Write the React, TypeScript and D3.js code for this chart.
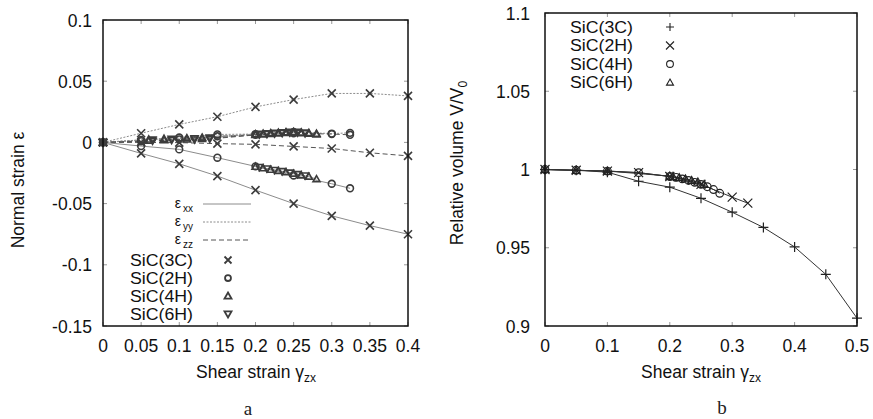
import React from 'react';
import * as d3 from 'd3';

// ---------- Panel a data ----------
const xTicksA = [0, 0.05, 0.1, 0.15, 0.2, 0.25, 0.3, 0.35, 0.4];
const xTickLabelsA = ['0', '0.05', '0.1', '0.15', '0.2', '0.25', '0.3', '0.35', '0.4'];
const yTicksA = [0.1, 0.05, 0, -0.05, -0.1, -0.15];
const yTickLabelsA = ['0.1', '0.05', '0', '-0.05', '-0.1', '-0.15'];

const x3C = [0, 0.05, 0.1, 0.15, 0.2, 0.25, 0.3, 0.35, 0.4];
const xx3C = [0, -0.009, -0.0175, -0.0275, -0.039, -0.05, -0.06, -0.068, -0.075];
const yy3C = [0, 0.0075, 0.0147, 0.021, 0.029, 0.035, 0.04, 0.04, 0.038];
const zz3C = [0, 0.0, -0.0002, -0.001, -0.0016, -0.0033, -0.005, -0.0085, -0.011];

const x2H = [0, 0.05, 0.1, 0.15, 0.2, 0.25, 0.3, 0.324];
const xx2H = [0, -0.003, -0.0057, -0.0125, -0.0196, -0.027, -0.0338, -0.0375];
const yy2H = [0, 0.002, 0.004, 0.0065, 0.0068, 0.0085, 0.0072, 0.0078];
const zz2H = [0, 0.001, 0.0025, 0.005, 0.0062, 0.0075, 0.0068, 0.0062];

const x4H = [0, 0.06, 0.08, 0.11, 0.13, 0.2, 0.21, 0.22, 0.23, 0.24, 0.25, 0.26, 0.27, 0.28];
const xx4H = [0, null, null, null, null, -0.0198, -0.021, -0.0222, -0.0232, -0.0243, -0.0255, -0.0268, -0.028, -0.03];
const yy4H = [0, 0.0025, 0.003, 0.0035, 0.004, 0.0068, 0.0072, 0.0076, 0.008, 0.0084, 0.0086, 0.0082, 0.0078, 0.0072];
const zz4H = [0, 0.0015, 0.002, 0.0025, 0.003, 0.0062, 0.0066, 0.007, 0.0074, 0.0078, 0.008, 0.0076, 0.0072, 0.0066];

const x6H = [0, 0.065, 0.09, 0.12, 0.14, 0.205, 0.215, 0.225, 0.235, 0.245, 0.255, 0.265];
const xx6H = [0, null, null, null, null, -0.0202, -0.0214, -0.0226, -0.0236, -0.0248, -0.026, -0.0272];
const yy6H = [0, 0.0022, 0.0028, 0.0033, 0.0038, 0.007, 0.0074, 0.0078, 0.0082, 0.0085, 0.0085, 0.008];
const zz6H = [0, 0.0012, 0.0018, 0.0023, 0.0028, 0.0064, 0.0068, 0.0072, 0.0076, 0.0079, 0.0079, 0.0074];

// ---------- Panel b data ----------
const xTicksB = [0, 0.1, 0.2, 0.3, 0.4, 0.5];
const xTickLabelsB = ['0', '0.1', '0.2', '0.3', '0.4', '0.5'];
const yTicksB = [1.1, 1.05, 1, 0.95, 0.9];
const yTickLabelsB = ['1.1', '1.05', '1', '0.95', '0.9'];

const xv3C = [0, 0.05, 0.1, 0.15, 0.2, 0.25, 0.3, 0.35, 0.4, 0.45, 0.5];
const v3C = [1.0, 0.9995, 0.9983, 0.9925, 0.9887, 0.9816, 0.9727, 0.963, 0.9505, 0.933, 0.905];
const xv2H = [0, 0.05, 0.1, 0.15, 0.2, 0.25, 0.3, 0.325];
const v2H = [1.0, 0.9995, 0.999, 0.998, 0.9955, 0.9905, 0.9823, 0.9785];
const xv4H = [0, 0.05, 0.1, 0.15, 0.2, 0.21, 0.22, 0.23, 0.24, 0.25, 0.26, 0.27, 0.28];
const v4H = [1.0, 0.9995, 0.999, 0.998, 0.9955, 0.995, 0.994, 0.993, 0.9918, 0.9905, 0.989, 0.9872, 0.9848];
const xv6H = [0, 0.05, 0.1, 0.2, 0.205, 0.215, 0.225, 0.235, 0.245, 0.255];
const v6H = [1.0, 0.9995, 0.999, 0.9958, 0.9955, 0.9948, 0.994, 0.993, 0.992, 0.9905];

const legendA = ['SiC(3C)', 'SiC(2H)', 'SiC(4H)', 'SiC(6H)'];
const legendB = ['SiC(3C)', 'SiC(2H)', 'SiC(4H)', 'SiC(6H)'];
const strainLabels = ['xx', 'yy', 'zz'];

type MarkerKind = 'x' | 'plus' | 'circle' | 'tri' | 'trid';

function Marker({ kind, x, y, s, color, sw }: { kind: MarkerKind; x: number; y: number; s: number; color: string; sw: number }) {
  const h = s / 2;
  if (kind === 'x')
    return <path d={`M${x - h},${y - h}L${x + h},${y + h}M${x - h},${y + h}L${x + h},${y - h}`} stroke={color} strokeWidth={sw} fill="none" />;
  if (kind === 'plus')
    return <path d={`M${x - h},${y}L${x + h},${y}M${x},${y - h}L${x},${y + h}`} stroke={color} strokeWidth={sw} fill="none" />;
  if (kind === 'circle') return <circle cx={x} cy={y} r={h * 0.85} stroke={color} strokeWidth={sw} fill="none" />;
  if (kind === 'tri')
    return <path d={`M${x},${y - h}L${x + h},${y + h * 0.75}L${x - h},${y + h * 0.75}Z`} stroke={color} strokeWidth={sw} fill="none" />;
  return <path d={`M${x},${y + h}L${x + h},${y - h * 0.75}L${x - h},${y - h * 0.75}Z`} stroke={color} strokeWidth={sw} fill="none" />;
}

const FONT = '"Liberation Sans", Arial, Helvetica, sans-serif';

export default function App() {
  const xA = d3.scaleLinear().domain([0, 0.4]).range([103, 408]);
  const yA = d3.scaleLinear().domain([-0.15, 0.1]).range([326, 20]);
  const xB = d3.scaleLinear().domain([0, 0.5]).range([545, 857]);
  const yB = d3.scaleLinear().domain([0.9, 1.1]).range([326, 13]);

  const lineA = (xs: number[], ys: (number | null)[]) =>
    d3
      .line<[number, number | null]>()
      .defined((d) => d[1] !== null)
      .x((d) => xA(d[0]))
      .y((d) => yA(d[1] as number))(xs.map((x, i) => [x, ys[i]] as [number, number | null])) || '';
  const lineB = (xs: number[], ys: number[]) =>
    d3
      .line<[number, number]>()
      .x((d) => xB(d[0]))
      .y((d) => yB(d[1]))(xs.map((x, i) => [x, ys[i]] as [number, number])) || '';

  const lineGray = '#8c8c8c';
  const markGray = '#3c3c3c';
  const dashYY = '2,1.5';
  const dashZZ = '5,3';
  const legendDash = ['', dashYY, dashZZ];
  const legendLineColor = [lineGray, lineGray, '#555'];

  const seriesA = [
    { x: x3C, xx: xx3C, yy: yy3C, zz: zz3C, m: 'x' as MarkerKind, s: 8 },
    { x: x2H, xx: xx2H, yy: yy2H, zz: zz2H, m: 'circle' as MarkerKind, s: 8 },
    { x: x4H, xx: xx4H, yy: yy4H, zz: zz4H, m: 'tri' as MarkerKind, s: 7 },
    { x: x6H, xx: xx6H, yy: yy6H, zz: zz6H, m: 'trid' as MarkerKind, s: 7 },
  ];
  const seriesB = [
    { x: xv3C, v: v3C, m: 'plus' as MarkerKind, s: 10 },
    { x: xv2H, v: v2H, m: 'x' as MarkerKind, s: 9 },
    { x: xv4H, v: v4H, m: 'circle' as MarkerKind, s: 9 },
    { x: xv6H, v: v6H, m: 'tri' as MarkerKind, s: 8 },
  ];
  const legMarkA: MarkerKind[] = ['x', 'circle', 'tri', 'trid'];
  const legMarkB: MarkerKind[] = ['plus', 'x', 'circle', 'tri'];
  const epsRowY = [204, 222, 240];

  const tickLen = 4;

  return (
    <svg width={873} height={419} style={{ position: 'absolute', left: 0, top: 0, background: '#fff' }} fontFamily={FONT}>
      <rect x={0} y={0} width={873} height={419} fill="#fff" />
      {/* ================= Panel a ================= */}
      <g>
        {xTicksA.map((t, i) => (
          <g key={'xta' + i}>
            <line x1={xA(t)} x2={xA(t)} y1={326} y2={326 - tickLen} stroke="#999" strokeWidth={1} />
            <line x1={xA(t)} x2={xA(t)} y1={20} y2={20 + tickLen} stroke="#999" strokeWidth={1} />
            <text x={xA(t)} y={352} fontSize={17.5} textAnchor="middle" fill="#111">
              {xTickLabelsA[i]}
            </text>
          </g>
        ))}
        {yTicksA.map((t, i) => (
          <g key={'yta' + i}>
            <line x1={103} x2={103 + tickLen} y1={yA(t)} y2={yA(t)} stroke="#999" strokeWidth={1} />
            <line x1={408} x2={408 - tickLen} y1={yA(t)} y2={yA(t)} stroke="#999" strokeWidth={1} />
            <text x={92} y={yA(t) + 6.5} fontSize={17.5} textAnchor="end" fill="#111">
              {yTickLabelsA[i]}
            </text>
          </g>
        ))}
        {seriesA.map((s, i) => (
          <g key={'la' + i} fill="none" stroke={lineGray} strokeWidth={1}>
            <path d={lineA(s.x, s.xx)} />
            <path d={lineA(s.x, s.yy)} strokeDasharray={dashYY} />
            <path d={lineA(s.x, s.zz)} strokeDasharray={dashZZ} stroke="#555" />
          </g>
        ))}
        {seriesA.map((s, i) => (
          <g key={'ma' + i}>
            {[s.xx, s.yy, s.zz].map((arr, j) =>
              s.x.map((x, k) =>
                arr[k] === null ? null : (
                  <Marker key={`${j}-${k}`} kind={s.m} x={xA(x)} y={yA(arr[k] as number)} s={s.s} color={markGray} sw={1.6} />
                ),
              ),
            )}
          </g>
        ))}
        <rect x={103} y={20} width={305} height={306} fill="none" stroke="#111" strokeWidth={1.5} />
        {/* legend: strain components */}
        {strainLabels.map((lab, i) => (
          <g key={'eps' + i}>
            <text x={181} y={epsRowY[i] + 4} fontSize={14} textAnchor="end" fill="#111">
              ε
            </text>
            <text x={193} y={epsRowY[i] + 8} fontSize={10} textAnchor="end" fill="#111">
              {lab}
            </text>
            <line x1={203} x2={251} y1={epsRowY[i]} y2={epsRowY[i]} stroke={legendLineColor[i]} strokeWidth={1} strokeDasharray={legendDash[i] || undefined} />
          </g>
        ))}
        {/* legend: polytypes */}
        {legendA.map((l, i) => (
          <g key={'lga' + i}>
            <text x={193} y={265.5 + i * 18} fontSize={16} textLength={63} lengthAdjust="spacingAndGlyphs" textAnchor="end" fill="#111">
              {l}
            </text>
            <Marker kind={legMarkA[i]} x={228} y={260 + i * 18} s={7} color={markGray} sw={1.8} />
          </g>
        ))}
        <text x={256} y={378} fontSize={17.5} textAnchor="middle" fill="#111">
          Shear strain γ<tspan fontSize={12} dy={4}>zx</tspan>
        </text>
        <text transform="translate(24,190) rotate(-90)" fontSize={17.5} textAnchor="middle" fill="#111">
          Normal strain ε
        </text>
        <text x={248} y={415} fontSize={19} textAnchor="middle" fontFamily='"Liberation Serif", "DejaVu Serif", serif' fill="#222">
          a
        </text>
      </g>

      {/* ================= Panel b ================= */}
      <g>
        {xTicksB.map((t, i) => (
          <g key={'xtb' + i}>
            <line x1={xB(t)} x2={xB(t)} y1={326} y2={326 - tickLen} stroke="#999" strokeWidth={1} />
            <line x1={xB(t)} x2={xB(t)} y1={13} y2={13 + tickLen} stroke="#999" strokeWidth={1} />
            <text x={xB(t)} y={352} fontSize={17.5} textAnchor="middle" fill="#111">
              {xTickLabelsB[i]}
            </text>
          </g>
        ))}
        {yTicksB.map((t, i) => (
          <g key={'ytb' + i}>
            <line x1={545} x2={545 + tickLen} y1={yB(t)} y2={yB(t)} stroke="#999" strokeWidth={1} />
            <line x1={857} x2={857 - tickLen} y1={yB(t)} y2={yB(t)} stroke="#999" strokeWidth={1} />
            <text x={530} y={yB(t) + 6.5} fontSize={17.5} textAnchor="end" fill="#111">
              {yTickLabelsB[i]}
            </text>
          </g>
        ))}
        {seriesB.map((s, i) => (
          <path key={'lb' + i} d={lineB(s.x, s.v)} fill="none" stroke="#333" strokeWidth={1} />
        ))}
        {seriesB.map((s, i) => (
          <g key={'mb' + i}>
            {s.x.map((x, k) => (
              <Marker key={k} kind={s.m} x={xB(x)} y={yB(s.v[k])} s={s.s} color="#222" sw={1.2} />
            ))}
          </g>
        ))}
        <rect x={545} y={13} width={312} height={313} fill="none" stroke="#111" strokeWidth={1.5} />
        {legendB.map((l, i) => (
          <g key={'lgb' + i}>
            <text x={633} y={32.5 + i * 18.5} fontSize={16} textLength={63} lengthAdjust="spacingAndGlyphs" textAnchor="end" fill="#111">
              {l}
            </text>
            <Marker kind={legMarkB[i]} x={670} y={27 + i * 18.5} s={i === 3 ? 7 : 8} color="#222" sw={1.1} />
          </g>
        ))}
        <text x={701} y={378} fontSize={17.5} textAnchor="middle" fill="#111">
          Shear strain γ<tspan fontSize={12} dy={4}>zx</tspan>
        </text>
        <text transform="translate(463,163) rotate(-90)" fontSize={17.5} textAnchor="middle" fill="#111">
          Relative volume V/V<tspan fontSize={12} dy={4}>0</tspan>
        </text>
        <text x={722} y={414} fontSize={19} textAnchor="middle" fontFamily='"Liberation Serif", "DejaVu Serif", serif' fill="#222">
          b
        </text>
      </g>
    </svg>
  );
}
